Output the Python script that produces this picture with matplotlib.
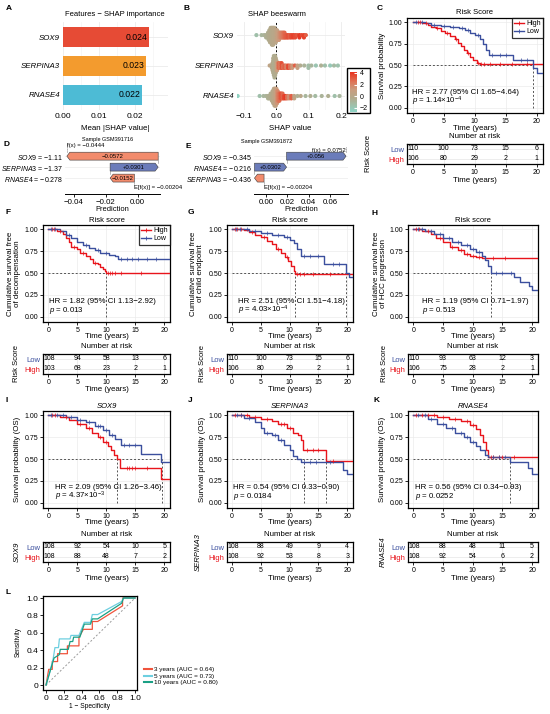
import numpy as np
import matplotlib
matplotlib.use('Agg')
import matplotlib.pyplot as plt
from matplotlib.patches import Polygon, Rectangle
from matplotlib.colors import LinearSegmentedColormap, Normalize
from matplotlib.colorbar import ColorbarBase
from matplotlib.lines import Line2D

plt.rcParams['font.family'] = ['Liberation Sans', 'DejaVu Sans']
plt.rcParams['mathtext.fontset'] = 'custom'
plt.rcParams['mathtext.rm'] = 'Liberation Sans'
plt.rcParams['mathtext.it'] = 'Liberation Sans:italic'

# ---------------- data ----------------
genes = ['SOX9', 'SERPINA3', 'RNASE4']
imp_vals = [0.024, 0.023, 0.022]
imp_colors = ['#e64b35', '#f39b2e', '#4dbbd5']

# beeswarm: shap value, number of samples at that value, feature value (z)
sox9_shap = [-0.062, -0.046, -0.038, -0.032, -0.028, -0.026, -0.024, -0.022, -0.020, -0.018,
             -0.016, -0.014, -0.012, -0.010, -0.008, -0.006, -0.004, -0.002, 0.000, 0.002,
             0.004, 0.006, 0.008, 0.010, 0.013, 0.016, 0.019, 0.022, 0.025, 0.028,
             0.032, 0.036, 0.041, 0.046, 0.052, 0.058, 0.064, 0.071, 0.078, 0.085, 0.091]
sox9_n = [1, 1, 1, 2, 2, 3, 4, 5, 6, 7, 7, 8, 8, 8, 7, 7, 6, 6, 5, 5,
          4, 4, 4, 3, 3, 3, 3, 3, 3, 2, 2, 2, 2, 2, 2, 2, 1, 2, 1, 2, 1]
sox9_z = [-1.5, -1.0, -0.8, -0.6, -0.5, -0.5, -0.4, -0.4, -0.3, -0.3,
          -0.2, -0.2, -0.1, -0.1, 0.0, 0.0, 0.1, 0.2, 0.4, 0.6,
          0.8, 1.0, 1.2, 1.5, 1.8, 2.0, 2.2, 2.5, 2.8, 3.0,
          3.2, 3.4, 3.0, 3.6, 3.8, 3.5, 3.2, 4.0, 3.6, 3.8, 3.0]
serp_shap = [-0.021, -0.017, -0.014, -0.012, -0.010, -0.008, -0.006, -0.004, -0.002, 0.000,
             0.002, 0.005, 0.008, 0.012, 0.016, 0.020, 0.025, 0.030, 0.036, 0.042,
             0.049, 0.057, 0.065, 0.074, 0.086, 0.099, 0.108, 0.122, 0.138, 0.150,
             0.166, 0.178, 0.190]
serp_n = [1, 1, 2, 4, 7, 9, 10, 9, 7, 5, 4, 3, 3, 3, 3, 2, 2, 2, 2, 2,
          2, 1, 2, 1, 1, 2, 1, 1, 1, 1, 1, 1, 1]
serp_z = [0.5, 0.2, 0.0, -0.2, -0.3, -0.4, -0.5, -0.4, -0.3, 0.2,
          1.0, 2.0, 2.8, 2.2, 3.4, 2.6, 3.0, 2.0, 3.6, 2.4,
          1.2, 3.0, 0.8, -0.4, -0.8, -1.4, -1.0, -1.8, -0.6, -1.5,
          -2.0, -1.2, -1.6]
rnase_shap = [-0.120, -0.052, -0.040, -0.032, -0.026, -0.022, -0.018, -0.014, -0.012, -0.010,
              -0.008, -0.006, -0.004, -0.002, 0.000, 0.002, 0.004, 0.006, 0.009, 0.012,
              0.015, 0.019, 0.023, 0.028, 0.033, 0.039, 0.046, 0.055, 0.065, 0.075,
              0.090, 0.105, 0.120, 0.140, 0.160, 0.180, 0.195]
rnase_n = [1, 1, 1, 1, 2, 2, 3, 4, 5, 6, 7, 8, 8, 8, 7, 6, 5, 4, 4, 3,
           3, 3, 2, 2, 2, 2, 2, 2, 1, 1, 1, 1, 1, 1, 1, 1, 1]
rnase_z = [-2.5, -1.5, -1.0, -0.8, -0.6, -0.5, -0.4, -0.3, -0.2, -0.1,
           0.0, 0.2, 0.4, 0.6, 1.0, 1.4, 1.8, 2.2, 2.6, 3.0,
           3.4, 2.8, 3.6, 4.0, 2.5, 1.5, 3.0, 0.5, -0.5, 0.0,
           -1.0, -0.5, -1.2, -0.8, -0.5, -1.5, -1.0]

# waterfall samples
d_feats = ['SOX9', 'SERPINA3', 'RNASE4']
d_fvals = [-1.11, -1.37, -0.278]
d_shap = [-0.0572, 0.0301, -0.0152]
e_feats = ['SOX9', 'RNASE4', 'SERPINA3']
e_fvals = [-0.345, -0.216, -0.436]
e_shap = [0.056, 0.0302, -0.0090]
base_value = -0.00204
d_fx = -0.0444
e_fx = 0.0752

# KM curves (time, survival)
c_hi_t = [0, 1.5, 2.5, 3.0, 3.8, 4.5, 5.2, 6.0, 6.8, 7.3, 7.8, 8.3, 8.8, 9.3, 9.8, 10.3, 10.8, 21]
c_hi_s = [1.0, 0.99, 0.97, 0.95, 0.93, 0.90, 0.87, 0.84, 0.80, 0.76, 0.72, 0.68, 0.64, 0.60, 0.56, 0.53, 0.51, 0.51]
c_lo_t = [0, 2.0, 3.0, 4.5, 6.0, 7.5, 8.5, 9.3, 10.0, 10.8, 11.3, 11.8, 12.3, 16.2, 19.4, 20.0, 21]
c_lo_s = [1.0, 0.99, 0.97, 0.96, 0.95, 0.93, 0.91, 0.88, 0.85, 0.80, 0.75, 0.68, 0.62, 0.56, 0.46, 0.41, 0.41]
c_hi_c = [0.8, 1.2, 2.2, 4.0, 5.5, 7.0, 9.0, 10.5, 11.0, 11.5, 12.5, 14.0, 16.0, 18.5]
c_lo_c = [0.5, 1.5, 3.5, 5.0, 6.5, 8.0, 9.0, 10.5, 12.8, 14.0, 15.0, 17.5, 18.5]

f_hi_t = [0, 1.5, 2.5, 3.0, 3.5, 4.0, 5.0, 5.5, 6.5, 7.2, 7.8, 8.5, 9.0, 9.5, 9.8, 10.0, 21]
f_hi_s = [1.0, 0.98, 0.95, 0.90, 0.85, 0.80, 0.78, 0.73, 0.70, 0.66, 0.62, 0.60, 0.57, 0.55, 0.52, 0.50, 0.50]
f_lo_t = [0, 2.0, 3.0, 4.0, 5.0, 6.0, 7.0, 8.0, 9.0, 10.5, 11.5, 12.0, 21]
f_lo_s = [1.0, 0.98, 0.94, 0.90, 0.86, 0.82, 0.79, 0.76, 0.73, 0.71, 0.69, 0.66, 0.66]
f_hi_c = [0.6, 1.0, 2.0, 4.5, 6.0, 8.0, 10.3, 10.6, 11.0, 11.5, 12.5, 16.0]
f_lo_c = [0.4, 1.2, 3.5, 6.5, 8.5, 10.0, 12.5, 13.5, 14.5, 15.5, 17.0, 18.5]

g_hi_t = [0, 2.0, 3.0, 4.0, 5.0, 6.0, 7.0, 7.7, 8.5, 9.2, 9.7, 10.3, 10.7, 11.0, 21]
g_hi_s = [1.0, 0.99, 0.97, 0.94, 0.91, 0.87, 0.83, 0.78, 0.73, 0.68, 0.64, 0.58, 0.52, 0.49, 0.49]
g_lo_t = [0, 3.0, 5.0, 7.0, 9.0, 10.0, 10.7, 11.3, 12.0, 16.0, 19.7, 20.3, 21]
g_lo_s = [1.0, 0.98, 0.96, 0.94, 0.91, 0.88, 0.84, 0.77, 0.69, 0.60, 0.50, 0.46, 0.46]
g_hi_c = [0.5, 0.9, 1.5, 3.5, 5.5, 8.0, 9.5, 11.3, 11.8, 12.5, 14.0, 17.0]
g_lo_c = [0.7, 1.3, 2.5, 4.0, 6.0, 8.0, 9.5, 12.5, 13.5, 15.0, 17.5, 18.5]

h_hi_t = [0, 1.5, 3.0, 3.8, 5.0, 6.2, 7.5, 8.5, 9.5, 10.5, 11.5, 21]
h_hi_s = [1.0, 0.98, 0.95, 0.90, 0.85, 0.80, 0.76, 0.72, 0.70, 0.68, 0.67, 0.67]
h_lo_t = [0, 2.0, 3.5, 5.0, 6.5, 8.0, 9.5, 10.5, 11.5, 12.0, 12.5, 13.0, 17.0, 18.0, 19.5, 20.0, 21]
h_lo_s = [1.0, 0.98, 0.95, 0.90, 0.86, 0.82, 0.78, 0.74, 0.70, 0.65, 0.58, 0.50, 0.45, 0.40, 0.35, 0.31, 0.31]
h_hi_c = [0.5, 1.0, 2.5, 4.5, 6.5, 8.0, 9.0, 10.0, 11.0, 13.5, 15.5]
h_lo_c = [0.8, 1.5, 3.0, 4.5, 6.0, 7.5, 9.0, 10.0, 11.0, 14.0, 15.0, 16.5]

i_hi_t = [0, 2.0, 3.5, 5.0, 6.5, 7.5, 8.5, 9.5, 10.3, 10.8, 11.3, 11.8, 12.3, 19.5, 21]
i_hi_s = [1.0, 0.98, 0.95, 0.90, 0.85, 0.80, 0.75, 0.70, 0.65, 0.60, 0.55, 0.50, 0.40, 0.27, 0.27]
i_lo_t = [0, 3.0, 5.0, 6.5, 8.0, 9.5, 10.5, 11.5, 12.5, 16.0, 19.5, 21]
i_lo_s = [1.0, 0.98, 0.95, 0.92, 0.88, 0.83, 0.78, 0.73, 0.66, 0.56, 0.47, 0.47]
i_hi_c = [0.6, 1.2, 3.0, 5.5, 7.0, 9.0, 10.0, 13.5, 14.0, 14.5, 15.0, 17.0]
i_lo_c = [0.5, 1.5, 2.5, 4.0, 5.5, 7.0, 8.5, 9.0, 10.0, 11.0, 13.0, 14.0, 15.0]

j_hi_t = [0, 3.0, 5.0, 7.0, 8.0, 9.5, 10.5, 11.5, 12.0, 12.3, 16.3, 21]
j_hi_s = [1.0, 0.98, 0.96, 0.93, 0.90, 0.85, 0.80, 0.77, 0.72, 0.60, 0.48, 0.48]
j_lo_t = [0, 2.0, 4.0, 5.0, 5.5, 7.0, 8.0, 9.0, 10.0, 10.5, 11.2, 12.0, 19.3, 20.0, 21]
j_lo_s = [1.0, 0.97, 0.92, 0.86, 0.80, 0.78, 0.72, 0.66, 0.60, 0.53, 0.50, 0.47, 0.38, 0.33, 0.33]
j_hi_c = [0.5, 1.5, 2.5, 4.0, 6.0, 8.5, 9.0, 10.0, 13.0, 14.0, 15.0, 17.5]
j_lo_c = [0.8, 1.5, 3.0, 6.0, 7.5, 8.5, 12.5, 13.5, 14.5, 17.0]

k_hi_t = [0, 4.0, 6.0, 8.0, 9.5, 10.5, 11.3, 11.8, 12.2, 12.5, 21]
k_hi_s = [1.0, 0.98, 0.96, 0.93, 0.89, 0.84, 0.78, 0.70, 0.60, 0.52, 0.52]
k_lo_t = [0, 2.5, 4.0, 5.5, 7.0, 8.5, 9.5, 10.5, 11.2, 12.0, 12.5, 16.3, 19.3, 20.0, 21]
k_lo_s = [1.0, 0.96, 0.90, 0.85, 0.80, 0.75, 0.70, 0.65, 0.60, 0.55, 0.52, 0.47, 0.40, 0.33, 0.33]
k_hi_c = [0.5, 1.5, 2.5, 3.5, 5.0, 7.0, 9.0, 10.0, 13.0, 13.5, 14.5, 15.0, 17.0]
k_lo_c = [0.8, 2.0, 3.0, 5.0, 6.5, 8.0, 9.0, 10.0, 13.5, 14.5, 15.5]

risk_times = [0, 5, 10, 15, 20]
c_lo_n, c_hi_n = [110, 100, 73, 15, 6], [106, 80, 29, 2, 1]
f_lo_n, f_hi_n = [108, 94, 58, 13, 6], [103, 68, 23, 2, 1]
g_lo_n, g_hi_n = [110, 100, 73, 15, 6], [106, 80, 29, 2, 1]
h_lo_n, h_hi_n = [110, 93, 63, 12, 3], [106, 75, 28, 2, 1]
i_lo_n, i_hi_n = [108, 92, 54, 10, 5], [108, 88, 48, 7, 2]
j_lo_n, j_hi_n = [108, 88, 49, 9, 4], [108, 92, 53, 8, 3]
k_lo_n, k_hi_n = [108, 88, 48, 11, 5], [108, 92, 54, 6, 2]

# ROC
roc3_fpr = [0, 0.03, 0.07, 0.07, 0.13, 0.13, 0.24, 0.24, 0.37, 0.37, 0.42, 0.52, 0.52, 0.58, 0.86, 0.86, 1.0]
roc3_tpr = [0, 0.18, 0.18, 0.27, 0.27, 0.36, 0.36, 0.45, 0.45, 0.55, 0.64, 0.64, 0.73, 0.73, 0.91, 1.0, 1.0]
roc5_fpr = [0, 0.04, 0.08, 0.10, 0.14, 0.15, 0.27, 0.28, 0.37, 0.43, 0.50, 0.52, 0.58, 0.85, 0.87, 1.0]
roc5_tpr = [0, 0.14, 0.30, 0.43, 0.43, 0.53, 0.53, 0.57, 0.57, 0.72, 0.72, 0.81, 0.81, 0.96, 1.0, 1.0]
roc10_fpr = [0, 0.04, 0.09, 0.15, 0.16, 0.25, 0.27, 0.30, 0.31, 0.38, 0.43, 0.50, 0.52, 0.58, 0.85, 0.87, 1.0]
roc10_tpr = [0, 0.14, 0.31, 0.35, 0.41, 0.41, 0.50, 0.50, 0.55, 0.55, 0.70, 0.70, 0.76, 0.76, 0.94, 1.0, 1.0]
roc_labels = ['3 years (AUC = 0.64)', '5 years (AUC = 0.73)', '10 years (AUC = 0.80)']
roc_colors = ['#f0543c', '#6dcfe0', '#1aa085']

RED = '#e8141b'
BLUE = '#3b4f9e'
W, H = 550, 714
fig = plt.figure(figsize=(5.5, 7.14), dpi=100)


def add_ax(l, t, r, b):
    return fig.add_axes([l / W, 1 - b / H, (r - l) / W, (b - t) / H])


def ftext(x, y, s, **kw):
    kw.setdefault('ha', 'center')
    kw.setdefault('va', 'center')
    return fig.text(x / W, 1 - y / H, s, **kw)


for lab, x, y in [('A', 6, 8), ('B', 184, 8), ('C', 377, 8), ('D', 4, 145), ('E', 186, 147),
                  ('F', 5, 212), ('G', 188, 212), ('H', 372, 213), ('I', 5, 401),
                  ('J', 188, 401), ('K', 373, 400), ('L', 5, 593)]:
    ftext(x, y, lab, fontsize=6, fontweight='bold', ha='left')

# ---------------- A: importance ----------------
ax = add_ax(63, 22, 168, 110)
ax.barh(range(3), imp_vals, height=0.7, color=imp_colors, zorder=2)
for i, v in enumerate(imp_vals):
    ax.text(v - 0.0005, i, f'{v:.3f}', ha='right', va='center', fontsize=6.2, zorder=3)
ax.set_xlim(0, 0.0292)
ax.set_ylim(2.52, -0.52)
ax.set_yticks(range(3), genes, fontstyle='italic', fontsize=5.7)
ax.set_xticks([0, 0.01, 0.02], ['0.00', '0.01', '0.02'], fontsize=6)
ax.set_xticks([0.005, 0.015, 0.025], minor=True)
ax.grid(which='major', color='#ebebeb', lw=0.6)
ax.grid(which='minor', axis='x', color='#f4f4f4', lw=0.5)
ax.set_axisbelow(True)
for s in ax.spines.values():
    s.set_visible(False)
ax.tick_params(which='both', length=0, pad=2)
ftext(115, 14, 'Features − SHAP importance', fontsize=5.5)
ftext(115, 128, 'Mean |SHAP value|', fontsize=5.7)

# ---------------- B: beeswarm ----------------
cmap = LinearSegmentedColormap.from_list(
    'shap', [(0, '#8cd4c6'), (0.35, '#b3aa8c'), (0.55, '#c99e80'), (0.75, '#de7558'), (1, '#e8321e')])
norm = Normalize(-2.69, 4.17)


def swarm_offsets(xpx, d):
    placed = []
    ys = np.zeros(len(xpx))
    for i in np.argsort(xpx, kind='stable'):
        x = xpx[i]
        near = [(px, py) for px, py in placed if abs(px - x) < d]
        cands = [0.0]
        for px, py in near:
            dy = np.sqrt(d * d - (px - x) ** 2)
            cands += [py + dy, py - dy]
        cands.sort(key=abs)
        for c in cands:
            if all((px - x) ** 2 + (py - c) ** 2 >= d * d - 1e-6 for px, py in near):
                ys[i] = c
                break
        placed.append((x, ys[i]))
    return ys


ax = add_ax(237, 22, 345, 110)
ax.set_xlim(-0.122, 0.212)
ax.set_ylim(2.46, -0.43)
ax.axvline(0, color='black', lw=0.7, ls=(0, (2, 2)), zorder=2)
for row, (sv, nv, zv) in enumerate([(sox9_shap, sox9_n, sox9_z), (serp_shap, serp_n, serp_z),
                                    (rnase_shap, rnase_n, rnase_z)]):
    xs = np.repeat(sv, nv)
    zs = np.repeat(zv, nv)
    off = swarm_offsets(xs * 3230, 2.4) / 30.5
    ax.scatter(xs, row + off, c=zs, cmap=cmap, norm=norm, s=9, linewidths=0, zorder=3)
ax.set_yticks(range(3), genes, fontstyle='italic', fontsize=5.7)
ax.set_xticks([-0.1, 0, 0.1, 0.2], ['−0.1', '0.0', '0.1', '0.2'], fontsize=6)
ax.set_xticks([-0.05, 0.05, 0.15], minor=True)
ax.grid(which='major', color='#ebebeb', lw=0.6)
ax.grid(which='minor', axis='x', color='#f4f4f4', lw=0.5)
ax.set_axisbelow(True)
for s in ax.spines.values():
    s.set_visible(False)
ax.tick_params(which='both', length=0, pad=2)
ftext(277, 14, 'SHAP beeswarm', fontsize=5.5)
ftext(290, 128, 'SHAP value', fontsize=5.7)

cax = add_ax(350, 72, 357, 112)
cb = ColorbarBase(cax, cmap=cmap, norm=norm, ticks=[4, 2, 0, -2])
cb.outline.set_visible(False)
cax.tick_params(labelsize=5, length=2, color='white', direction='in', pad=2)
fig.patches.append(Rectangle((347 / W, 1 - 113 / H), 23 / W, 45 / H, fill=False, lw=1,
                             edgecolor='black', transform=fig.transFigure))


# ---------------- D / E: waterfall ----------------
def waterfall(box, feats, fvals, shaps, fx, xlim, ticks, tlabels, hl, flab_y, flab_ha, title, title_xy):
    ax = add_ax(*box)
    n = len(feats)
    ys = np.arange(n, 0, -1)
    h = 0.36
    for y in ys:
        ax.axhline(y, color='#ececec', lw=0.5, zorder=0)
    cur = base_value
    for i in range(n - 1, -1, -1):
        v = shaps[i]
        a, b = cur, cur + v
        yc = ys[i]
        hh = min(hl, abs(v))
        if v > 0:
            verts = [(a, yc - h), (b - hh, yc - h), (b, yc), (b - hh, yc + h), (a, yc + h)]
            col = '#6b7cba'
        else:
            verts = [(a, yc - h), (b + hh, yc - h), (b, yc), (b + hh, yc + h), (a, yc + h)]
            col = '#f28b6c'
        ax.add_patch(Polygon(verts, closed=True, facecolor=col, edgecolor='#3a3a3a', lw=0.4, zorder=2))
        if abs(v) > 0.012:
            txt = f'{v:+.3g}'.replace('-', '−')
            ax.text((a + b) / 2, yc, txt, ha='center', va='center', fontsize=4.3, zorder=3)
        if i > 0:
            ax.plot([b, b], [yc + h, ys[i - 1] - h], color='#888888', lw=0.4, zorder=1)
        cur = b
    ax.plot([fx, fx], [ys[0] + h, flab_y + 0.3], color='#555555', lw=0.5, ls=(0, (1.5, 1.5)))
    ax.text(fx, flab_y, f'f(x) = {fx:g}'.replace('-', '−'), ha=flab_ha, va='center', fontsize=4.3)
    ax.plot([base_value, base_value], [ys[-1] - h, 0.35], color='#555555', lw=0.5, ls=(0, (1.5, 1.5)))
    ax.text(base_value, 0.12, f'E[f(x)] = {base_value:g}'.replace('-', '−'),
            ha='left', va='center', fontsize=4.3)
    ax.set_xlim(*xlim)
    ax.set_ylim(-0.45, 4.2)
    labs = [f'$\\mathit{{{f}}}$ = ' + f'{v:g}'.replace('-', '−') for f, v in zip(feats, fvals)]
    ax.set_yticks(ys, labs, fontsize=5)
    ax.set_xticks(ticks, tlabels, fontsize=5.7)
    for k in ['top', 'right', 'left']:
        ax.spines[k].set_visible(False)
    ax.spines['bottom'].set_linewidth(0.7)
    ax.tick_params(axis='y', length=0, pad=1.5)
    ax.tick_params(axis='x', length=2, width=0.6, pad=1.5)
    cx = (box[0] + box[2]) / 2
    ftext(cx, box[3] + 15, 'Prediction', fontsize=5.4)
    ftext(title_xy[0], title_xy[1], title, fontsize=4)


waterfall((65, 143, 160, 194), d_feats, d_fvals, d_shap, d_fx, (-0.0455, 0.014),
          [-0.04, -0.02, 0.0], ['−0.04', '−0.02', '0.00'], 0.0019, 4.0, 'left',
          'Sample GSM391716', (108, 139))
waterfall((254, 143, 348, 194), e_feats, e_fvals, e_shap, e_fx, (-0.0115, 0.077),
          [0.0, 0.02, 0.04, 0.06], ['0.00', '0.02', '0.04', '0.06'], 0.0028, 3.55, 'right',
          'Sample GSM391872', (267, 141))


# ---------------- KM panels ----------------
def km(box, tbox, title, title_it, ylab, ylab_x, hi_t, hi_s, lo_t, lo_s, hi_c, lo_c, med,
       hr, pv, tx, rlab, rlab_it, rlab_x, lo_n, hi_n, legend=False):
    l, t, r, b = box
    ax = add_ax(l, t, r, b)
    ax.step(hi_t, hi_s, where='post', color=RED, lw=1.0, zorder=3)
    ax.step(lo_t, lo_s, where='post', color=BLUE, lw=1.0, zorder=3)
    for ct, tt, ss, col in ((hi_c, hi_t, hi_s, RED), (lo_c, lo_t, lo_s, BLUE)):
        idx = np.searchsorted(tt, ct, side='right') - 1
        ax.plot(ct, np.asarray(ss)[idx], '+', color=col, ms=2.5, mew=0.5, zorder=4)
    ax.plot([0, max(med)], [0.5, 0.5], color='#555555', lw=0.7, ls=(0, (2, 2)), zorder=2)
    for m in med:
        ax.plot([m, m], [0, 0.5], color='#555555', lw=0.7, ls=(0, (2, 2)), zorder=2)
    ax.text(tx, 0.18, hr, fontsize=5.7, va='center')
    ax.text(tx, 0.075, pv, fontsize=5.7, va='center')
    ax.set_xlim(-0.9, 21)
    ax.set_ylim(-0.06, 1.05)
    ax.set_xticks(risk_times)
    ax.set_yticks([0, 0.25, 0.5, 0.75, 1.0], ['0.00', '0.25', '0.50', '0.75', '1.00'])
    ax.tick_params(labelsize=5, length=2, width=0.6, pad=1.5)
    ax.grid(color='#ebebeb', lw=0.5)
    ax.set_axisbelow(True)
    for s in ax.spines.values():
        s.set_linewidth(0.9)
    if legend:
        handles = [Line2D([0], [0], color=RED, lw=1, marker='+', ms=3, mew=0.6),
                   Line2D([0], [0], color=BLUE, lw=1, marker='+', ms=3, mew=0.6)]
        lg = ax.legend(handles, ['High', 'Low'], loc='upper right', fontsize=5, frameon=True,
                       fancybox=False, borderaxespad=0, handlelength=1.4, handletextpad=0.3,
                       borderpad=0.3, labelspacing=0.2)
        lg.get_frame().set_edgecolor('black')
        lg.get_frame().set_linewidth(0.9)
    cx = (l + r) / 2
    ftext(cx, t - 5, title, fontsize=5.5, fontstyle='italic' if title_it else 'normal')
    ftext(cx, b + 15, 'Time (years)', fontsize=5.7)
    ftext(ylab_x, (t + b) / 2, ylab, fontsize=5.7, rotation=90, linespacing=1.0)

    tl, tt_, tr, tb = tbox
    tax = add_ax(*tbox)
    tax.set_xlim(-0.9, 21)
    tax.set_ylim(0, 2)
    for k, tm in enumerate(risk_times):
        xx, ha = (tm, 'center') if k > 0 else (-0.8, 'left')
        tax.text(xx, 1.5, str(lo_n[k]), ha=ha, va='center', fontsize=5)
        tax.text(xx, 0.5, str(hi_n[k]), ha=ha, va='center', fontsize=5)
    tax.set_xticks(risk_times)
    tax.set_yticks([0.5, 1.5], ['High', 'Low'])
    for lbl, col in zip(tax.get_yticklabels(), [RED, BLUE]):
        lbl.set_color(col)
    tax.tick_params(axis='y', length=0, labelsize=5.5, pad=2)
    tax.tick_params(axis='x', labelsize=5, length=2, width=0.6, pad=1.5)
    tax.grid(color='#e6e6e6', lw=0.5)
    tax.set_axisbelow(True)
    for s in tax.spines.values():
        s.set_linewidth(0.9)
    ftext(cx, tt_ - 8, 'Number at risk', fontsize=5.7)
    ftext(cx, tb + 16, 'Time (years)', fontsize=5.7)
    ftext(rlab_x, (tt_ + tb) / 2, rlab, fontsize=5.5, rotation=90,
          fontstyle='italic' if rlab_it else 'normal')


km((407, 18, 543, 113), (407, 144, 543, 164), 'Risk Score', False, 'Survival probability', 383,
   c_hi_t, c_hi_s, c_lo_t, c_lo_s, c_hi_c, c_lo_c, [19.4],
   'HR = 2.77 (95% CI 1.65−4.64)', r'$p$ = 1.14×10$^{-4}$', -0.1,
   'Risk Score', False, 368, c_lo_n, c_hi_n, legend=True)
km((43, 225, 170, 322), (43, 354, 170, 374), 'Risk score', False,
   'Cumulative survival free\nof decompensation', 14,
   f_hi_t, f_hi_s, f_lo_t, f_lo_s, f_hi_c, f_lo_c, [10.0],
   'HR = 1.82 (95% CI 1.13−2.92)', r'$p$ = 0.013', 0.2,
   'Risk Score', False, 17, f_lo_n, f_hi_n, legend=True)
km((227, 225, 353, 322), (227, 354, 353, 374), 'Risk score', False,
   'Cumulative survival free\nof child endpoint', 197,
   g_hi_t, g_hi_s, g_lo_t, g_lo_s, g_hi_c, g_lo_c, [11.0, 19.7],
   'HR = 2.51 (95% CI 1.51−4.18)', r'$p$ = 4.03×10$^{-4}$', 1.0,
   'Risk Score', False, 202, g_lo_n, g_hi_n)
km((408, 225, 538, 322), (408, 354, 538, 374), 'Risk score', False,
   'Cumulative survival free\nof HCC progression', 380,
   h_hi_t, h_hi_s, h_lo_t, h_lo_s, h_hi_c, h_lo_c, [13.0],
   'HR = 1.19 (95% CI 0.71−1.97)', r'$p$ = 0.513', 1.4,
   'Risk Score', False, 385, h_lo_n, h_hi_n)
km((43, 411, 170, 508), (43, 542, 170, 562), 'SOX9', True, 'Survival probability (OS)', 18,
   i_hi_t, i_hi_s, i_lo_t, i_lo_s, i_hi_c, i_lo_c, [11.9, 19.6],
   'HR = 2.09 (95% CI 1.26−3.46)', r'$p$ = 4.37×10$^{-3}$', 1.2,
   'SOX9', True, 17, i_lo_n, i_hi_n)
km((227, 411, 353, 508), (227, 542, 353, 562), 'SERPINA3', True, 'Survival probability (OS)', 202,
   j_hi_t, j_hi_s, j_lo_t, j_lo_s, j_hi_c, j_lo_c, [12.5, 16.3],
   'HR = 0.54 (95% CI 0.33−0.90)', r'$p$ = 0.0184', 0.2,
   'SERPINA3', True, 198, j_lo_n, j_hi_n)
km((408, 411, 538, 508), (408, 542, 538, 562), 'RNASE4', True, 'Survival probability (OS)', 383,
   k_hi_t, k_hi_s, k_lo_t, k_lo_s, k_hi_c, k_lo_c, [16.3],
   'HR = 0.56 (95% CI 0.34−0.93)', r'$p$ = 0.0252', 0.2,
   'RNASE4', True, 383, k_lo_n, k_hi_n)

# ---------------- L: ROC ----------------
ax = add_ax(43, 596, 137, 690)
ax.plot([0, 1], [0, 1], color='#9a9a9a', lw=0.7, ls=(0, (2, 2)))
for fpr, tpr, col in [(roc3_fpr, roc3_tpr, roc_colors[0]), (roc5_fpr, roc5_tpr, roc_colors[1]),
                      (roc10_fpr, roc10_tpr, roc_colors[2])]:
    ax.plot(fpr, tpr, color=col, lw=0.9)
ax.set_xlim(-0.034, 1.022)
ax.set_ylim(-0.057, 1.023)
ticks = [0, 0.2, 0.4, 0.6, 0.8, 1.0]
tl = ['0', '0.2', '0.4', '0.6', '0.8', '1.0']
ax.set_xticks(ticks, tl)
ax.set_yticks(ticks, tl)
ax.tick_params(labelsize=6, length=2, width=0.6, pad=1.5)
for s in ax.spines.values():
    s.set_linewidth(0.9)
ftext(90, 707, '1 − Specificity', fontsize=4.8)
ftext(18, 642, 'Sensitivity', fontsize=4.8, rotation=90)
fig.legend([Line2D([0], [0], color=c, lw=1.5) for c in roc_colors], roc_labels,
           loc='center left', bbox_to_anchor=(141 / W, 1 - 676 / H), frameon=False, fontsize=4.6,
           handlelength=1.3, handletextpad=0.4, labelspacing=0.15, borderaxespad=0)

fig.savefig('out.png', dpi=100)
